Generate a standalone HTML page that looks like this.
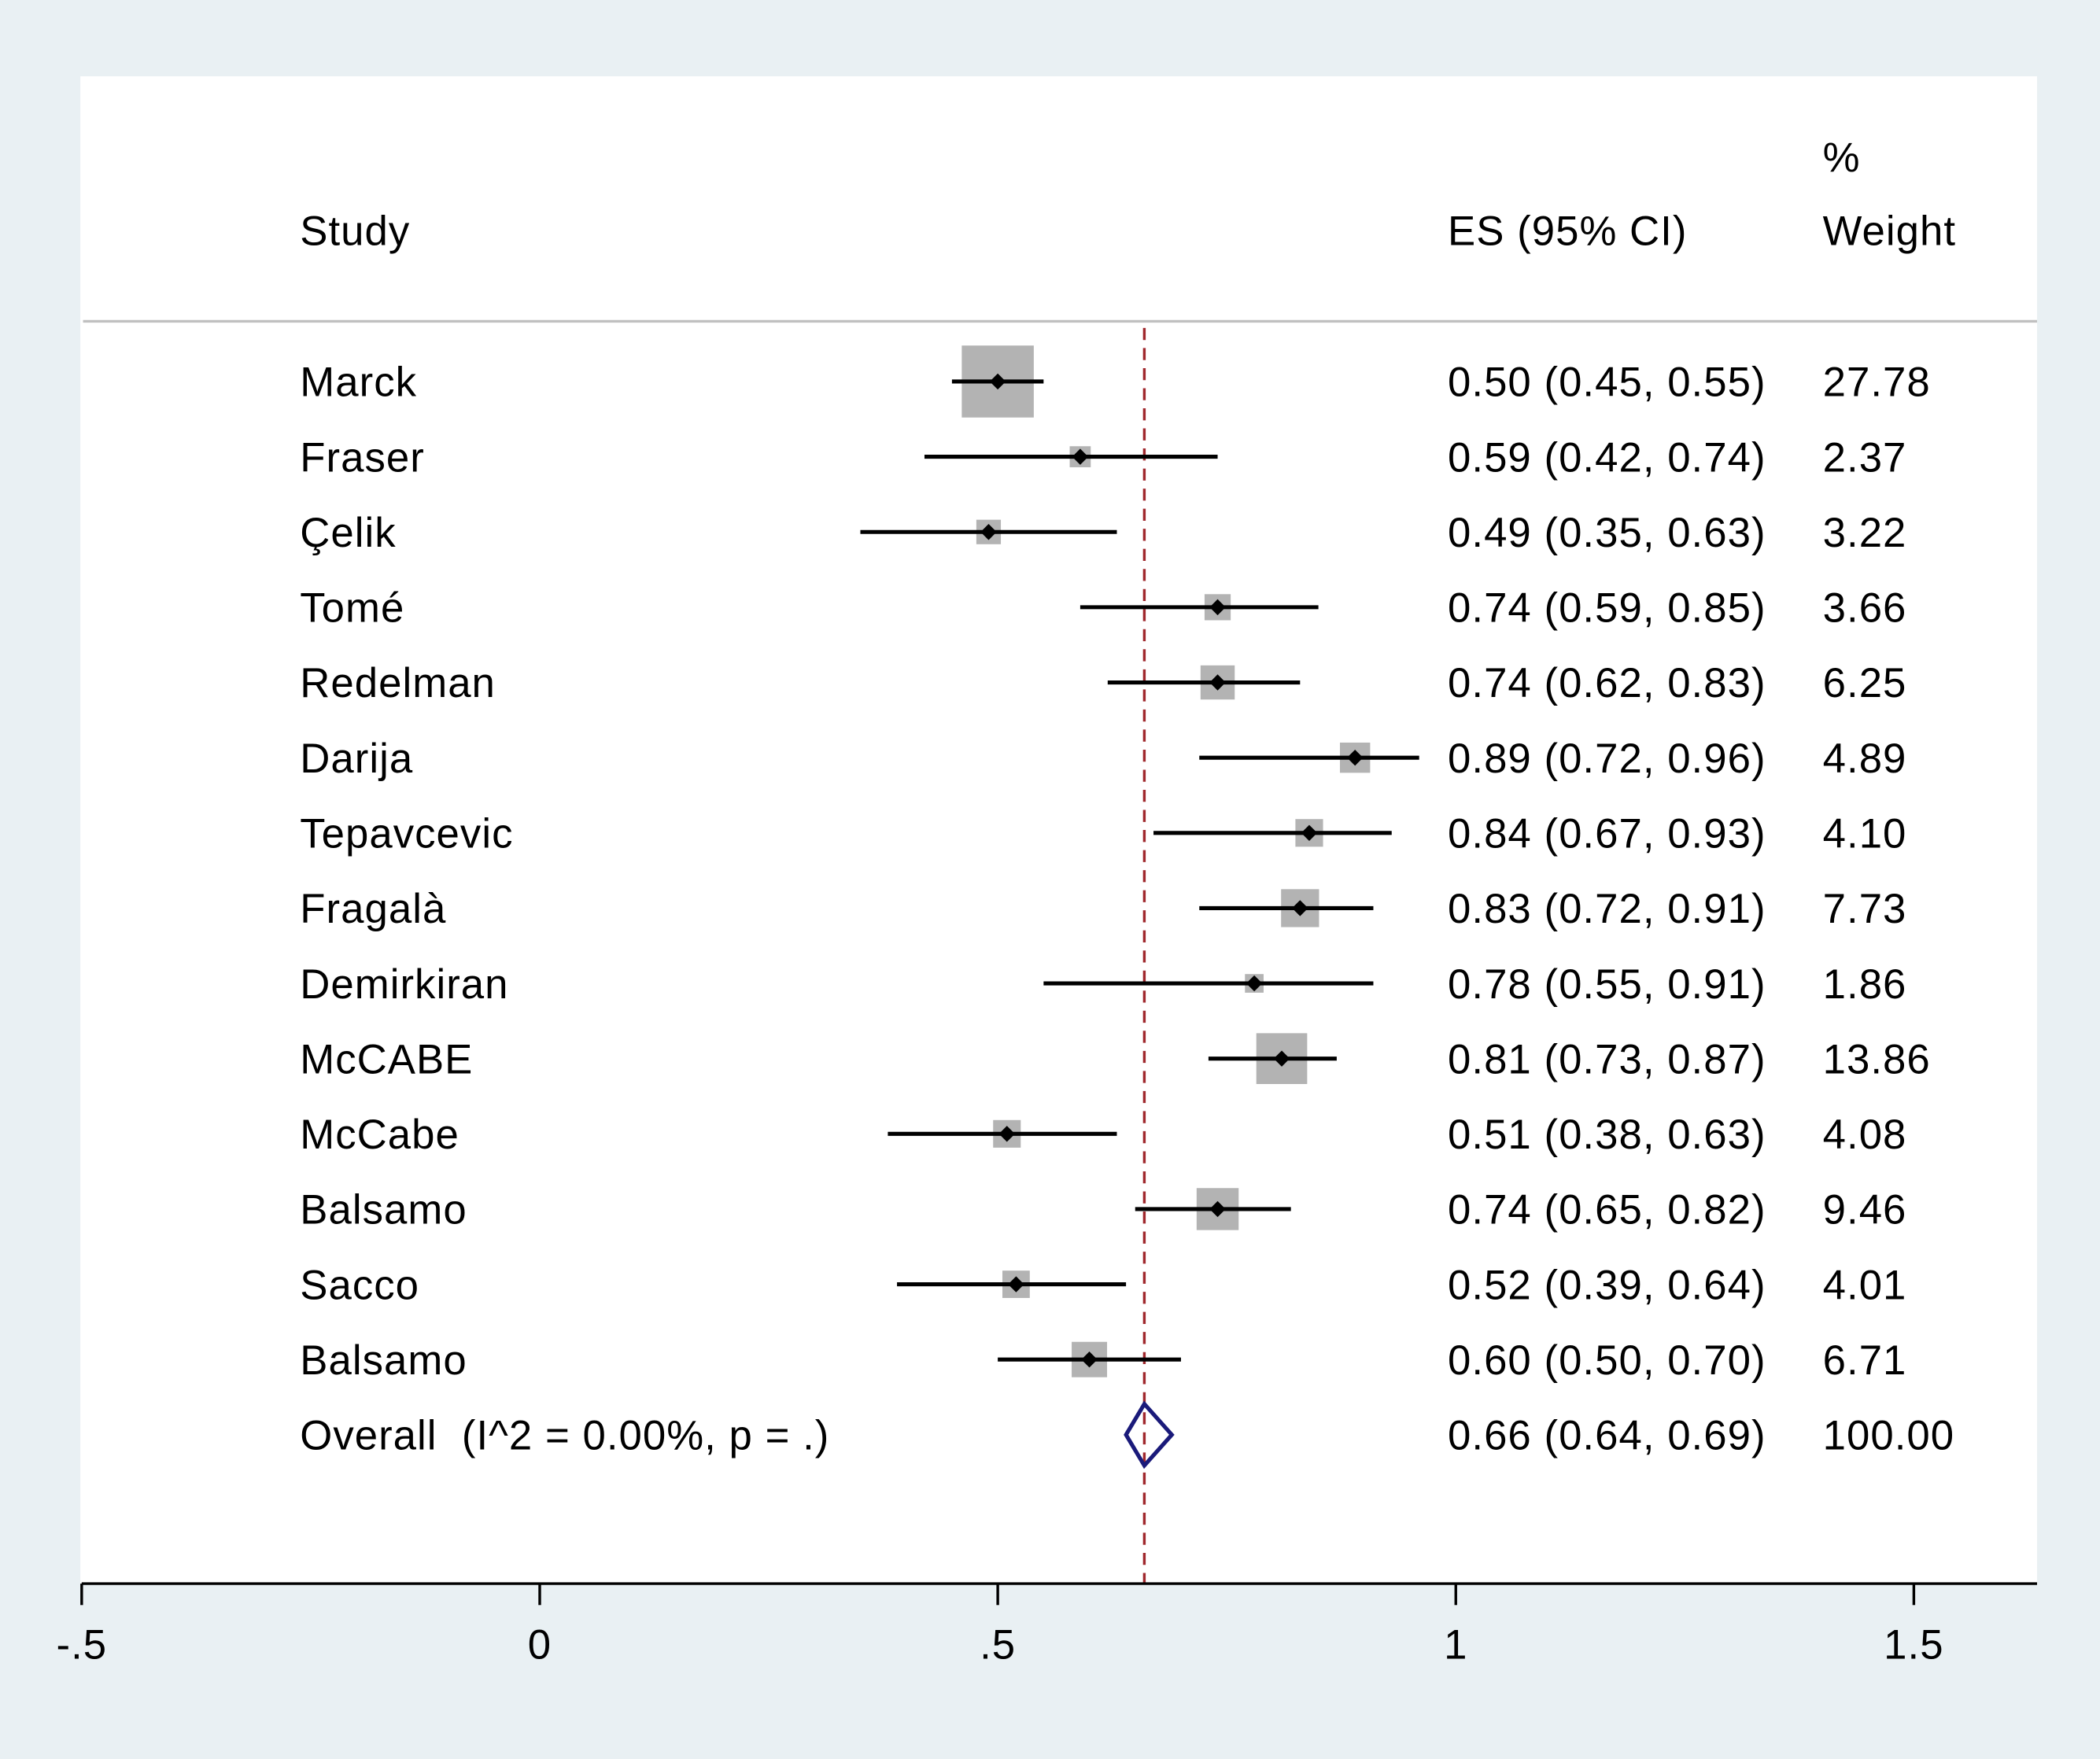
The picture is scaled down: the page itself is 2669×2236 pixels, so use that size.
<!DOCTYPE html>
<html><head><meta charset="utf-8"><style>
html,body{margin:0;padding:0;background:#e9f0f3;}
svg{display:block;}
text{font-family:"Liberation Sans",Arial,sans-serif;fill:#000;letter-spacing:0.6px;}
</style></head><body>
<svg id="chart" width="2669" height="2236" viewBox="0 0 1568 1314" preserveAspectRatio="none" xmlns="http://www.w3.org/2000/svg">
<rect x="0" y="0" width="1568" height="1314" fill="#e9f0f3"/>
<rect x="60" y="57" width="1461" height="1126" fill="#ffffff"/>
<text x="224" y="183" font-size="31">Study</text>
<text x="1081" y="183" font-size="31">ES (95% CI)</text>
<text x="1361" y="128" font-size="31">%</text>
<text x="1361" y="183" font-size="31">Weight</text>
<line x1="62" y1="240" x2="1521" y2="240" stroke="#c0c0c0" stroke-width="2"/>
<g id="marks"></g>
<g id="axis"></g>
</svg>
<script>
const studies = ["Marck","Fraser","Çelik","Tomé","Redelman","Darija","Tepavcevic","Fragalà","Demirkiran","McCABE","McCabe","Balsamo","Sacco","Balsamo"];
const es = [0.50,0.59,0.49,0.74,0.74,0.89,0.84,0.83,0.78,0.81,0.51,0.74,0.52,0.60];
const lo = [0.45,0.42,0.35,0.59,0.62,0.72,0.67,0.72,0.55,0.73,0.38,0.65,0.39,0.50];
const hi = [0.55,0.74,0.63,0.85,0.83,0.96,0.93,0.91,0.91,0.87,0.63,0.82,0.64,0.70];
const weights = [27.78,2.37,3.22,3.66,6.25,4.89,4.10,7.73,1.86,13.86,4.08,9.46,4.01,6.71];
const overall = [0.66,0.64,0.69];
const overallLabel = "Overall\u00a0 (I^2 = 0.00%, p = .)";
const ticks = [-0.5,0,0.5,1,1.5];
const tickLabels = ["-.5","0",".5","1","1.5"];

const NS="http://www.w3.org/2000/svg";
const xs = v => 403 + v*684;
const ys = i => 285 + i*56.2;
const marks=document.getElementById('marks'), axis=document.getElementById('axis');
function mk(tag,attrs,parent){const e=document.createElementNS(NS,tag);for(const k in attrs)e.setAttribute(k,attrs[k]);parent.appendChild(e);return e;}
const fmt=v=>v.toFixed(2);
const FS=31;

let dl=mk('line',{x1:xs(overall[0]),y1:245,x2:xs(overall[0]),y2:1183,stroke:'#a0282d','stroke-width':2,'stroke-dasharray':'9,6'},marks);



studies.forEach((s,i)=>{
  const y=ys(i);
  const side=10.2*Math.sqrt(weights[i]);
  let b=mk('rect',{x:xs(es[i])-side/2,y:y-side/2,width:side,height:side,fill:'#b3b3b3'},marks);
  
  
  let l=mk('line',{x1:xs(lo[i]),y1:y,x2:xs(hi[i]),y2:y,stroke:'#000','stroke-width':3},marks);
  
  
  const cx=xs(es[i]);
  let d=mk('polygon',{points:`${cx-6},${y} ${cx},${y-6} ${cx+6},${y} ${cx},${y+6}`,fill:'#000'},marks);
  
  
  let t=mk('text',{x:224,y:y+11,'font-size':FS},marks);t.textContent=s;
  
  
  let e=mk('text',{x:1081,y:y+11,'font-size':FS},marks);e.textContent=`${fmt(es[i])} (${fmt(lo[i])}, ${fmt(hi[i])})`;
  
  
  let w=mk('text',{x:1361,y:y+11,'font-size':FS},marks);w.textContent=fmt(weights[i]);
  
  
});
const oy=ys(studies.length);
let od=mk('polygon',{points:`${xs(overall[1])},${oy} ${xs(overall[0])},${oy-23} ${xs(overall[2])},${oy} ${xs(overall[0])},${oy+23}`,fill:'none',stroke:'#1a1a7a','stroke-width':3},marks);


let ot=mk('text',{x:224,y:oy+11,'font-size':FS},marks);ot.textContent=overallLabel;


let oe=mk('text',{x:1081,y:oy+11,'font-size':FS},marks);oe.textContent=`${fmt(overall[0])} (${fmt(overall[1])}, ${fmt(overall[2])})`;


let ow=mk('text',{x:1361,y:oy+11,'font-size':FS},marks);ow.textContent="100.00";



let al=mk('line',{x1:61,y1:1183,x2:1521,y2:1183,stroke:'#000','stroke-width':2},axis);


ticks.forEach((v,i)=>{
  let tk=mk('line',{x1:xs(v),y1:1183,x2:xs(v),y2:1199,stroke:'#000','stroke-width':2},axis);
  
  
  let tl=mk('text',{x:xs(v),y:1239,'font-size':FS,'text-anchor':'middle'},axis);tl.textContent=tickLabels[i];
  
  
});
</script>
</body></html>
